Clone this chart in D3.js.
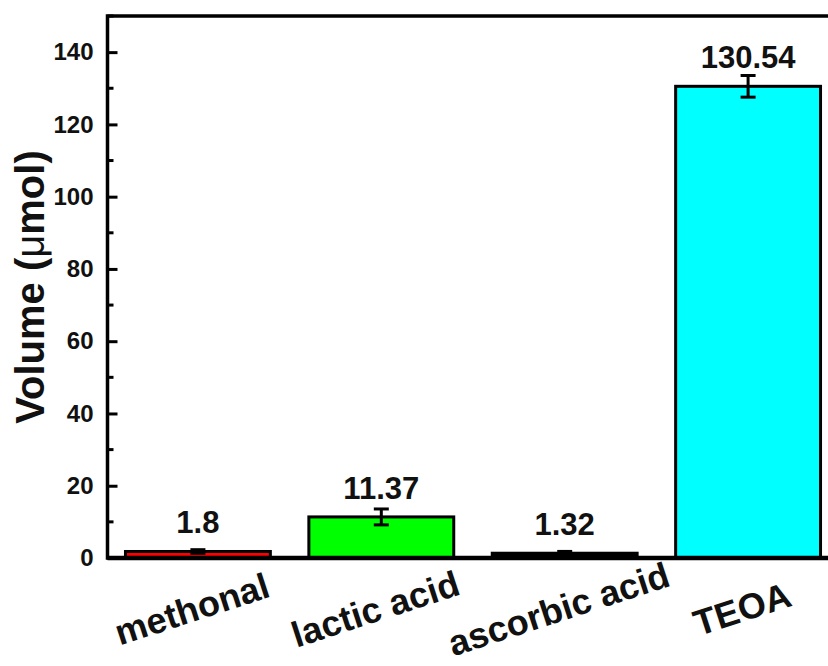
<!DOCTYPE html>
<html>
<head>
<meta charset="utf-8">
<script src="https://cdn.jsdelivr.net/npm/d3@7"></script>
<style>
  html, body { margin: 0; padding: 0; background: #fff; }
  svg { display: block; font-family: "Liberation Sans", Arial, sans-serif; }
</style>
</head>
<body>
<svg id="chart" width="828" height="666"></svg>
<script>
// Hydrogen volume by sacrificial agent
const categories = ["methonal", "lactic acid", "ascorbic acid", "TEOA"];
const values = [1.8, 11.37, 1.32, 130.54];
const errors = [0.5, 2.2, 0.5, 3.0];
const valueLabels = ["1.8", "11.37", "1.32", "130.54"];
const fills = ["#ff0000", "#00ff00", "#000000", "#00ffff"];
const yTicks = [0, 20, 40, 60, 80, 100, 120, 140];
const yMinorTicks = [10, 30, 50, 70, 90, 110, 130, 150];

const svg = d3.select("#chart");
const plotLeft = 107.5, plotRight = 838.5, plotTop = 16, plotBottom = 558;

const x = d3.scaleBand().domain(categories).range([plotLeft, plotRight])
  .paddingInner(0.21).paddingOuter(0.098);
const y = d3.scaleLinear().domain([0, 150]).range([plotBottom, plotTop]);

// bars
svg.append("g").selectAll("rect").data(categories).join("rect")
  .attr("x", d => x(d))
  .attr("width", x.bandwidth())
  .attr("y", (d, i) => y(values[i]))
  .attr("height", (d, i) => y(0) - y(values[i]))
  .attr("fill", (d, i) => fills[i])
  .attr("stroke", "#000")
  .attr("stroke-width", 3);

// error bars
const eg = svg.append("g").attr("stroke", "#000").attr("stroke-width", 3);
categories.forEach((c, i) => {
  const cx = x(c) + x.bandwidth() / 2;
  const y1 = y(values[i] + errors[i]), y2 = y(values[i] - errors[i]);
  eg.append("line").attr("x1", cx).attr("x2", cx).attr("y1", y1).attr("y2", y2);
  eg.append("line").attr("x1", cx - 7.5).attr("x2", cx + 7.5).attr("y1", y1).attr("y2", y1);
  eg.append("line").attr("x1", cx - 7.5).attr("x2", cx + 7.5).attr("y1", y2).attr("y2", y2);
});

// value labels
svg.append("g").selectAll("text").data(categories).join("text")
  .attr("x", d => x(d) + x.bandwidth() / 2)
  .attr("y", (d, i) => y(values[i]) - 18)
  .attr("text-anchor", "middle")
  .attr("font-size", 31).attr("font-weight", "bold").attr("fill", "#111")
  .text((d, i) => valueLabels[i]);

// y axis with inward ticks
const yAxis = svg.append("g").attr("transform", `translate(${plotLeft},0)`)
  .call(d3.axisLeft(y).tickValues(yTicks).tickSizeInner(-10).tickSizeOuter(0).tickPadding(14));
yAxis.select(".domain").remove();
yAxis.selectAll(".tick line").attr("stroke-width", 3);
yAxis.selectAll(".tick text")
  .attr("font-size", 24).attr("font-weight", "bold").attr("fill", "#111")
  .attr("font-family", "Liberation Sans, Arial, sans-serif");
svg.append("g").selectAll("line").data(yMinorTicks).join("line")
  .attr("x1", plotLeft).attr("x2", plotLeft + 6)
  .attr("y1", d => y(d)).attr("y2", d => y(d))
  .attr("stroke", "#000").attr("stroke-width", 3);

// frame
svg.append("rect")
  .attr("x", plotLeft).attr("y", plotTop)
  .attr("width", plotRight - plotLeft).attr("height", plotBottom - plotTop)
  .attr("fill", "none").attr("stroke", "#000").attr("stroke-width", 3.5);
svg.append("line").attr("x1", plotLeft).attr("x2", plotRight)
  .attr("y1", plotBottom).attr("y2", plotBottom)
  .attr("stroke", "#000").attr("stroke-width", 4.5);

// category labels
svg.append("g").selectAll("text").data(categories).join("text")
  .attr("transform", d => `translate(${x(d) + x.bandwidth() / 2 - 6},${609}) rotate(-18)`)
  .attr("text-anchor", "middle")
  .attr("dominant-baseline", "central")
  .attr("font-size", 36).attr("font-weight", "bold").attr("fill", "#111")
  .text(d => d);

// y title
const yt = svg.append("text")
  .attr("transform", `translate(44,${(plotTop + plotBottom) / 2}) rotate(-90)`)
  .attr("text-anchor", "middle")
  .attr("font-size", 40).attr("font-weight", "bold").attr("fill", "#111");
yt.append("tspan").text("Volume (");
yt.append("tspan").attr("font-weight", "normal").text("μ");
yt.append("tspan").text("mol)");
</script>
</body>
</html>
